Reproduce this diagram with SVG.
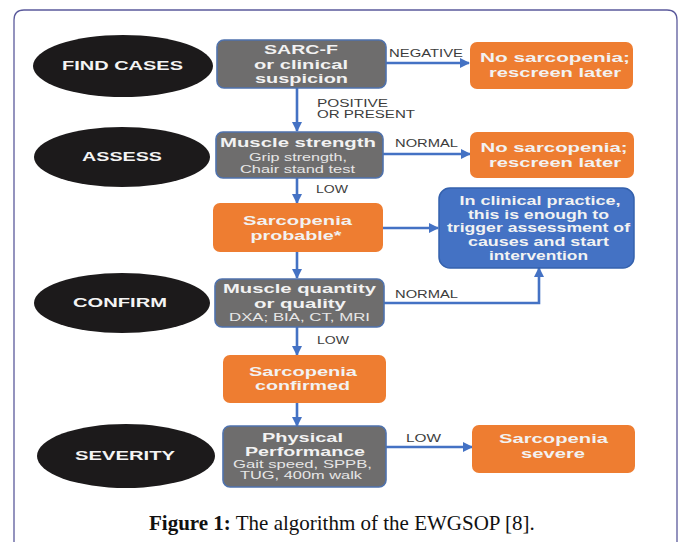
<svg xmlns="http://www.w3.org/2000/svg" width="679" height="542" viewBox="0 0 679 542">
<defs>
<marker id="ah" viewBox="0 0 10 10" refX="9" refY="5" markerWidth="10" markerHeight="10" markerUnits="userSpaceOnUse" orient="auto">
<path d="M0,0 L10,5 L0,10 Z" fill="#4472c4"/>
</marker>
</defs>
<style>
.ell{fill:#1c1a1b}
.gray{fill:#6e6d6d;stroke:#4f72ad;stroke-width:1.6}
.org{fill:#ee7d31}
.blue{fill:#4472c4;stroke:#3461ad;stroke-width:1.5}
.conn{fill:none;stroke:#4472c4;stroke-width:2.6;marker-end:url(#ah)}
text{font-family:"Liberation Sans",Arial,sans-serif}
.et{font-size:13px;font-weight:bold;fill:#f4f4f4;text-anchor:middle}
.t{font-size:13px;font-weight:bold;fill:#f2f2f2;text-anchor:middle}
.bt{font-size:12px;font-weight:bold;fill:#f2f2f2;text-anchor:middle}
.s{font-size:10.5px;fill:#e6e6e6;text-anchor:middle}
.lbl{font-size:10px;fill:#3c3c3c}
.cap{font-family:"Liberation Serif","Times New Roman",serif;font-size:21px;fill:#111}
</style>
<path d="M14,542 V20 Q14,10 24,10 H667 Q677,10 677,20 V542" fill="none" stroke="#5b5a9c" stroke-width="1.3"/>

<g id="connectors">
<path class="conn" d="M386,63 H469"/>
<path class="conn" d="M297,88 V131"/>
<path class="conn" d="M383,154 H470"/>
<path class="conn" d="M297,178 V203"/>
<path class="conn" d="M383,228 H438"/>
<path class="conn" d="M297,252 V278"/>
<path class="conn" d="M384,303 H539 V268"/>
<path class="conn" d="M297,327 V355"/>
<path class="conn" d="M297,403 V426"/>
<path class="conn" d="M386,447 H472"/>
<text class="lbl" x="389" y="57" textLength="74" lengthAdjust="spacingAndGlyphs">NEGATIVE</text>
<text class="lbl" x="317" y="107" textLength="71" lengthAdjust="spacingAndGlyphs">POSITIVE</text>
<text class="lbl" x="317" y="118" textLength="98" lengthAdjust="spacingAndGlyphs">OR PRESENT</text>
<text class="lbl" x="395" y="147" textLength="63" lengthAdjust="spacingAndGlyphs">NORMAL</text>
<text class="lbl" x="316" y="193" textLength="32" lengthAdjust="spacingAndGlyphs">LOW</text>
<text class="lbl" x="395" y="298" textLength="63" lengthAdjust="spacingAndGlyphs">NORMAL</text>
<text class="lbl" x="317" y="344" textLength="32" lengthAdjust="spacingAndGlyphs">LOW</text>
<text class="lbl" x="406" y="442" textLength="35" lengthAdjust="spacingAndGlyphs">LOW</text>
</g>

<g id="find-cases">
<ellipse class="ell" cx="123" cy="66" rx="90" ry="31"/>
<text class="et" x="122.5" y="70" textLength="121" lengthAdjust="spacingAndGlyphs">FIND CASES</text>
</g>
<g id="assess">
<ellipse class="ell" cx="122" cy="157" rx="88" ry="30"/>
<text class="et" x="122" y="161" textLength="80" lengthAdjust="spacingAndGlyphs">ASSESS</text>
</g>
<g id="confirm">
<ellipse class="ell" cx="122" cy="303" rx="88" ry="30"/>
<text class="et" x="120" y="307" textLength="94" lengthAdjust="spacingAndGlyphs">CONFIRM</text>
</g>
<g id="severity">
<ellipse class="ell" cx="126" cy="456" rx="89" ry="32"/>
<text class="et" x="125" y="460" textLength="100" lengthAdjust="spacingAndGlyphs">SEVERITY</text>
</g>

<g id="sarc-f">
<rect class="gray" x="217" y="40" width="169" height="48" rx="7"/>
<text class="t" x="301" y="54" textLength="74" lengthAdjust="spacingAndGlyphs">SARC-F</text>
<text class="t" x="301" y="68.5" textLength="94" lengthAdjust="spacingAndGlyphs">or clinical</text>
<text class="t" x="301.5" y="83" textLength="93" lengthAdjust="spacingAndGlyphs">suspicion</text>
</g>
<g id="no-sarcopenia-1">
<rect class="org" x="470" y="42" width="163" height="47" rx="7"/>
<text class="t" x="555" y="62" textLength="150" lengthAdjust="spacingAndGlyphs">No sarcopenia;</text>
<text class="t" x="555" y="77" textLength="132" lengthAdjust="spacingAndGlyphs">rescreen later</text>
</g>
<g id="muscle-strength">
<rect class="gray" x="216" y="132" width="167" height="46" rx="7"/>
<text class="t" x="298" y="147" textLength="156" lengthAdjust="spacingAndGlyphs">Muscle strength</text>
<text class="s" x="298" y="161" textLength="98" lengthAdjust="spacingAndGlyphs">Grip strength,</text>
<text class="s" x="297.5" y="173" textLength="115" lengthAdjust="spacingAndGlyphs">Chair stand test</text>
</g>
<g id="no-sarcopenia-2">
<rect class="org" x="470" y="132" width="164" height="46" rx="7"/>
<text class="t" x="554" y="152" textLength="147" lengthAdjust="spacingAndGlyphs">No sarcopenia;</text>
<text class="t" x="555" y="166.5" textLength="132" lengthAdjust="spacingAndGlyphs">rescreen later</text>
</g>
<g id="sarcopenia-probable">
<rect class="org" x="213" y="203" width="170" height="49" rx="7"/>
<text class="t" x="297.5" y="225" textLength="109" lengthAdjust="spacingAndGlyphs">Sarcopenia</text>
<text class="t" x="296" y="240" textLength="91" lengthAdjust="spacingAndGlyphs">probable*</text>
</g>
<g id="clinical-practice">
<rect class="blue" x="439" y="188" width="195" height="80" rx="11"/>
<text class="bt" x="540" y="205" textLength="161" lengthAdjust="spacingAndGlyphs">In clinical practice,</text>
<text class="bt" x="538.5" y="218.5" textLength="141" lengthAdjust="spacingAndGlyphs">this is enough to</text>
<text class="bt" x="538.5" y="232" textLength="183" lengthAdjust="spacingAndGlyphs">trigger assessment of</text>
<text class="bt" x="538.5" y="246" textLength="141" lengthAdjust="spacingAndGlyphs">causes and start</text>
<text class="bt" x="538.5" y="260" textLength="99" lengthAdjust="spacingAndGlyphs">intervention</text>
</g>
<g id="muscle-quantity">
<rect class="gray" x="215" y="279" width="169" height="48" rx="7"/>
<text class="t" x="299.5" y="293" textLength="153" lengthAdjust="spacingAndGlyphs">Muscle quantity</text>
<text class="t" x="300" y="308" textLength="92" lengthAdjust="spacingAndGlyphs">or quality</text>
<text class="s" x="299.5" y="321" textLength="141" lengthAdjust="spacingAndGlyphs">DXA; BIA, CT, MRI</text>
</g>
<g id="sarcopenia-confirmed">
<rect class="org" x="223" y="355" width="163" height="48" rx="7"/>
<text class="t" x="303" y="375.5" textLength="108" lengthAdjust="spacingAndGlyphs">Sarcopenia</text>
<text class="t" x="302.5" y="390" textLength="95" lengthAdjust="spacingAndGlyphs">confirmed</text>
</g>
<g id="physical-performance">
<rect class="gray" x="223" y="426" width="163" height="61" rx="7"/>
<text class="t" x="302.5" y="441.5" textLength="81" lengthAdjust="spacingAndGlyphs">Physical</text>
<text class="t" x="305" y="455.5" textLength="120" lengthAdjust="spacingAndGlyphs">Performance</text>
<text class="s" x="302.5" y="468" textLength="139" lengthAdjust="spacingAndGlyphs">Gait speed, SPPB,</text>
<text class="s" x="301" y="479" textLength="122" lengthAdjust="spacingAndGlyphs">TUG, 400m walk</text>
</g>
<g id="sarcopenia-severe">
<rect class="org" x="472" y="425" width="163" height="48" rx="7"/>
<text class="t" x="553.5" y="443" textLength="109" lengthAdjust="spacingAndGlyphs">Sarcopenia</text>
<text class="t" x="553" y="458" textLength="64" lengthAdjust="spacingAndGlyphs">severe</text>
</g>

<text class="cap" x="149" y="530"><tspan font-weight="bold">Figure 1:</tspan> The algorithm of the EWGSOP [8].</text>
</svg>
